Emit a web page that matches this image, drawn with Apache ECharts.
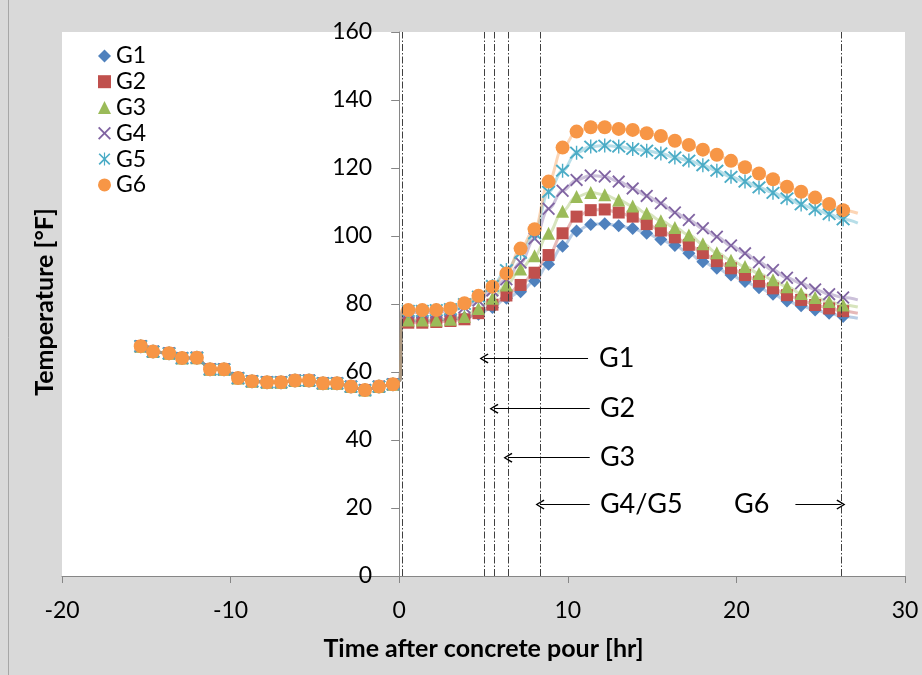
<!DOCTYPE html>
<html>
<head>
<meta charset="utf-8">
<script src="https://cdn.jsdelivr.net/npm/echarts@6/dist/echarts.min.js"></script>
<style>html,body{margin:0;padding:0;background:#d9d9d9;}#c{width:922px;height:675px;}</style>
</head>
<body>
<div id="c"></div>
<script>
// ---- data ----
const seriesNames = ['G1', 'G2', 'G3', 'G4', 'G5', 'G6'];
const preTimes = [-15.33, -14.6, -13.65, -12.88, -12.0, -11.22, -10.39, -9.56, -8.73, -7.84, -7.01, -6.18, -5.35, -4.52, -3.69, -2.86, -2.03, -1.2, -0.37];
const preTemps = [67.6, 66.0, 65.5, 64.1, 64.2, 60.8, 60.8, 58.2, 57.3, 57.0, 57.0, 57.5, 57.5, 56.7, 56.7, 55.7, 54.7, 55.7, 56.4];
const pourTimes = [0.05, 0.15];
const pourBase = 57.5;
const postTimes = [0.54, 1.37, 2.2, 3.04, 3.87, 4.7, 5.53, 6.36, 7.2, 8.03, 8.86, 9.69, 10.52, 11.36, 12.19, 13.02, 13.85, 14.68, 15.52, 16.35, 17.18, 18.01, 18.84, 19.68, 20.51, 21.34, 22.17, 23.0, 23.84, 24.67, 25.5, 26.33];
const g1Post = [75.0, 75.0, 75.2, 75.5, 76.0, 77.0, 79.0, 81.7, 83.6, 86.8, 91.7, 97.0, 101.5, 103.4, 103.6, 103.0, 102.2, 100.8, 99.0, 97.2, 94.9, 92.4, 90.5, 88.5, 86.6, 84.8, 82.9, 80.9, 79.5, 78.2, 77.3, 76.3];
const g2Post = [74.5, 74.5, 74.7, 75.0, 75.5, 77.3, 79.8, 82.5, 85.6, 89.2, 94.4, 100.8, 105.7, 107.6, 107.8, 106.9, 105.7, 103.5, 101.6, 99.6, 97.4, 95.0, 92.6, 90.5, 88.5, 86.6, 84.6, 82.6, 81.2, 79.7, 78.7, 77.9];
const g3Post = [75.3, 75.3, 75.3, 75.5, 76.3, 78.7, 81.7, 85.6, 90.3, 94.2, 100.8, 107.3, 111.6, 112.8, 112.1, 110.6, 108.8, 106.7, 104.5, 102.5, 100.3, 97.7, 95.1, 92.9, 91.0, 89.0, 87.1, 85.1, 83.1, 81.9, 80.7, 79.7];
const g4Post = [77.5, 77.5, 77.5, 78.0, 79.0, 81.0, 84.0, 87.3, 92.2, 99.3, 108.0, 113.3, 116.5, 117.8, 117.5, 116.0, 114.0, 111.8, 109.6, 106.9, 104.7, 102.3, 99.8, 97.2, 94.9, 92.3, 90.0, 87.7, 86.1, 84.3, 82.9, 81.9];
const g5Post = [78.0, 78.0, 78.2, 78.5, 80.0, 82.2, 85.3, 90.0, 95.0, 100.8, 113.0, 119.2, 124.5, 126.3, 126.6, 126.3, 125.6, 125.1, 124.3, 123.1, 122.2, 120.8, 119.2, 117.4, 116.0, 114.3, 112.7, 111.1, 109.3, 107.9, 106.4, 104.9];
const g6Post = [78.2, 78.2, 78.2, 78.7, 80.2, 82.4, 85.1, 89.0, 96.3, 102.0, 116.0, 126.0, 130.7, 132.0, 132.0, 131.5, 131.2, 130.2, 129.4, 128.0, 126.8, 125.4, 123.9, 122.1, 120.2, 118.4, 116.7, 114.5, 113.0, 111.3, 109.4, 107.6];
const tailTime = 27.2;
const tailTemps = [75.8, 77.3, 79.1, 81.2, 103.8, 106.7];
const eventTimes = [0.17, 5.03, 5.62, 6.45, 8.35, 26.2];
const annotLabels = ['G1', 'G2', 'G3', 'G4/G5', 'G6'];
const annotLabelX = [11.85, 11.9, 11.9, 11.9, 19.85];
const annotY = [64.0, 49.2, 34.8, 21.0, 21.0];
const arrowFrom = [11.2, 11.3, 11.3, 11.3, 23.5];
const arrowTo = [5.03, 5.62, 6.45, 8.35, 26.2];
const xTicks = { min: -20, max: 30, interval: 10 };
const yTicks = { min: 0, max: 160, interval: 20 };

// ---- styles ----
const postAll = [g1Post, g2Post, g3Post, g4Post, g5Post, g6Post];
const colors = ['#4f81bd', '#c0504d', '#9bbb59', '#8064a2', '#4bacc6', '#f79646'];
const xPath = 'path://M0,2 L2,0 L10,8 L18,0 L20,2 L12,10 L20,18 L18,20 L10,12 L2,20 L0,18 L8,10 Z';
const starPath = 'path://M0,2 L2,0 L10,8 L18,0 L20,2 L12,10 L20,18 L18,20 L10,12 L2,20 L0,18 L8,10 Z M9,-1 L11,-1 L11,21 L9,21 Z';
const symbols = ['diamond', 'rect', 'triangle', xPath, starPath, 'circle'];
const sizes = [13, 12, 13, 13, 14, 14];
const chevron = 'path://M5,0 L10,9 L8.8,10 L5,2.6 L1.2,10 L0,9 Z';
const FONT = 'Lato, "Liberation Sans", sans-serif';

const GRID = { left: 62, right: 17, top: 32, bottom: 99 };
const plotW = 922 - GRID.left - GRID.right;
const yAxisOffset = -plotW * (0 - xTicks.min) / (xTicks.max - xTicks.min);

const series = [];
seriesNames.forEach((nm, i) => {
  const post = postAll[i];
  const lineData = preTimes.map((t, j) => [t, preTemps[j]])
    .concat([[pourTimes[0], pourBase], [pourTimes[1], post[0]]])
    .concat(postTimes.map((t, j) => [t, post[j]]))
    .concat([[tailTime, tailTemps[i]]]);
  series.push({
    name: nm + ' line', type: 'line', data: lineData, showSymbol: false, symbol: 'none',
    smooth: 0.4, smoothMonotone: 'x', silent: true,
    lineStyle: { color: colors[i], width: 3, opacity: 0.4 }, z: 2
  });
  const markerData = preTimes.map((t, j) => [t, preTemps[j]]).concat(postTimes.map((t, j) => [t, post[j]]));
  series.push({
    name: nm, type: 'scatter', data: markerData, symbol: symbols[i], symbolSize: sizes[i],
    itemStyle: { color: colors[i], opacity: 1 }, z: 3
  });
});

series.push({
  name: 'annot', type: 'scatter', data: [], silent: true, z: 4,
  markLine: {
    silent: true, symbol: 'none', animation: false,
    label: { show: false },
    lineStyle: { color: '#404040', width: 1, type: [7, 2, 1.5, 2] },
    data: eventTimes.map(t => ({ xAxis: t }))
  }
});
series.push({
  name: 'arrows', type: 'scatter', data: [], silent: true, z: 5,
  markLine: {
    silent: true, animation: false,
    symbol: ['none', chevron], symbolSize: [10, 9],
    label: { show: false },
    lineStyle: { color: '#000', width: 1.2, type: 'solid' },
    itemStyle: { color: '#000' },
    data: arrowFrom.map((x0, k) => [{ coord: [x0, annotY[k]] }, { coord: [arrowTo[k], annotY[k]] }])
  },
  markPoint: {
    silent: true, animation: false, symbol: 'rect', symbolSize: 0.1,
    itemStyle: { color: 'rgba(0,0,0,0)' },
    label: { show: true, position: 'right', distance: 0, color: '#000', fontSize: 27, fontFamily: FONT, formatter: '{b}' },
    data: annotLabels.map((s, k) => ({ name: s, coord: [annotLabelX[k], annotY[k]] }))
  }
});

const chart = echarts.init(document.getElementById('c'), null, { renderer: 'canvas' });
chart.setOption({
  backgroundColor: '#d9d9d9',
  animation: false,
  textStyle: { fontFamily: FONT },
  grid: Object.assign({ show: true, backgroundColor: '#ffffff', borderWidth: 0, containLabel: false, outerBoundsMode: 'none' }, GRID),
  legend: {
    data: seriesNames, orient: 'vertical', left: 93, top: 38, itemGap: 0,
    itemWidth: 13, itemHeight: 13,
    textStyle: { fontSize: 23, color: '#000', fontFamily: FONT, lineHeight: 25.8 }
  },
  xAxis: {
    type: 'value', min: xTicks.min, max: xTicks.max, interval: xTicks.interval,
    name: 'Time after concrete pour [hr]', nameLocation: 'middle', nameGap: 60,
    nameTextStyle: { fontSize: 25, fontWeight: 'bold', color: '#000', fontFamily: FONT },
    axisLine: { lineStyle: { color: '#868686', width: 1 } },
    axisTick: { show: true, length: 7, lineStyle: { color: '#868686' } },
    axisLabel: { fontSize: 23, color: '#000', margin: 23, fontFamily: FONT },
    splitLine: { show: false }
  },
  yAxis: {
    type: 'value', min: yTicks.min, max: yTicks.max, interval: yTicks.interval,
    position: 'left', offset: yAxisOffset,
    axisLine: { show: true, onZero: false, lineStyle: { color: '#868686', width: 1 } },
    axisTick: { show: true, length: 8, lineStyle: { color: '#868686' } },
    axisLabel: { fontSize: 23, color: '#000', margin: 27, fontFamily: FONT },
    splitLine: { show: false }
  },
  graphic: [
    { type: 'text', x: 45, y: 302, rotation: Math.PI / 2, silent: true,
      style: { text: 'Temperature [°F]', fontSize: 25, fontWeight: 'bold', fill: '#000', fontFamily: FONT,
               textAlign: 'center', textVerticalAlign: 'middle' } },
    { type: 'line', shape: { x1: 8.5, y1: 0, x2: 8.5, y2: 675 }, style: { stroke: '#a6a6a6', lineWidth: 1 }, silent: true }
  ],
  series: series
});
</script>
</body>
</html>
